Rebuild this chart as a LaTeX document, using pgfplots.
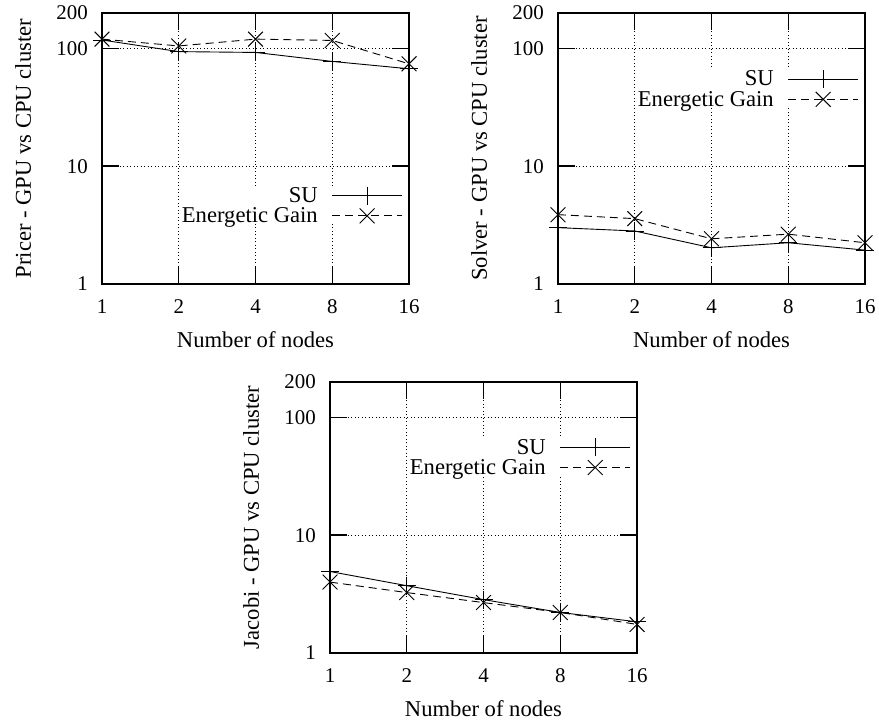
\documentclass[border=0pt]{standalone}
\usepackage{pgfplots}
\pgfplotsset{compat=1.18}
\usepackage{fontspec}
\setmainfont{Liberation Serif}
\newcommand{\gpfont}{\fontsize{22.7}{26}\selectfont}
\newcommand{\gptickfont}{\fontsize{21}{24}\selectfont}

\pgfplotsset{
 gnubox/.style={
  scale only axis, width=307bp, height=271bp,
  log basis x=2,
  xmin=1, xmax=16, ymin=1, ymax=200,
  xtick={1,2,4,8,16},
  xticklabels={1,2,4,8,16},
  ytick={1,10,100,200},
  yticklabels={1,10,100,200},
  /pgf/number format/assume math mode=true,
  xminorticks=false, yminorticks=false,
  major tick length=17bp,
  tick align=inside,
  tick pos=both,
  xtick style={draw=black, line width=1.5bp},
  ytick style={draw=black, line width=1.5bp},
  axis line style={black, line width=1.5bp},
  xmajorgrids, ymajorgrids,
  major grid style={black, line width=0.6bp, dash pattern=on 1bp off 2.5bp},
  font=\gpfont,
  tick label style={font=\gptickfont},
  xticklabel style={anchor=base, yshift=-29bp, inner sep=0pt},
  yticklabel style={anchor=east, xshift=-14bp, inner sep=0pt},
  xlabel style={at={(axis description cs:0.5,-0.207)}, anchor=center, inner sep=0pt},
  ylabel style={at={(axis description cs:-0.257,0.5)}, anchor=center, inner sep=0pt},
  clip=false,
  legend cell align=right,
  legend plot pos=right,
  legend style={draw=none, fill=white, anchor=north east, inner sep=0pt, row sep=3bp, column sep=14bp, font=\gpfont, nodes={inner sep=0pt}},
 },
 legend image code/.code={\draw[mark repeat=2,mark phase=2] plot coordinates {(0bp,0bp) (35bp,0bp) (70bp,0bp)};},
}
\tikzset{
 mysu/.style={black, line width=0.9bp, mark=+, mark size=9bp, mark options={solid}},
 myeg/.style={black, line width=0.9bp, dash pattern=on 8bp off 5bp, mark=x, mark size=10.5bp, mark options={solid}},
}

\begin{document}
\begin{tikzpicture}
\path (0,0) rectangle (879bp,-726bp);

\begin{loglogaxis}[gnubox, at={(102bp,-284bp)}, anchor=south west,
  xlabel={Number of nodes},
  ylabel={Pricer - GPU vs CPU cluster},
  legend style={at={(0.98,0.36)}}]
\addplot[mysu] coordinates {(1,118) (2,94) (4,92.5) (8,77.6) (16,67.2)};
\addlegendentry{SU}
\addplot[myeg] coordinates {(1,120) (2,105) (4,120) (8,117) (16,74)};
\addlegendentry{Energetic Gain}
\end{loglogaxis}

\begin{loglogaxis}[gnubox, at={(558bp,-284bp)}, anchor=south west,
  xlabel={Number of nodes},
  ylabel={Solver - GPU vs CPU cluster},
  legend style={at={(0.98,0.79)}}]
\addplot[mysu] coordinates {(1,3.01) (2,2.82) (4,2.03) (8,2.24) (16,1.94)};
\addlegendentry{SU}
\addplot[myeg] coordinates {(1,3.88) (2,3.59) (4,2.42) (8,2.65) (16,2.24)};
\addlegendentry{Energetic Gain}
\end{loglogaxis}

\begin{loglogaxis}[gnubox, at={(330bp,-653bp)}, anchor=south west,
  xlabel={Number of nodes},
  ylabel={Jacobi - GPU vs CPU cluster},
  legend style={at={(0.98,0.793)}}]
\addplot[mysu] coordinates {(1,4.92) (2,3.73) (4,2.84) (8,2.21) (16,1.84)};
\addlegendentry{SU}
\addplot[myeg] coordinates {(1,4.0) (2,3.26) (4,2.68) (8,2.21) (16,1.75)};
\addlegendentry{Energetic Gain}
\end{loglogaxis}
\end{tikzpicture}
\end{document}
